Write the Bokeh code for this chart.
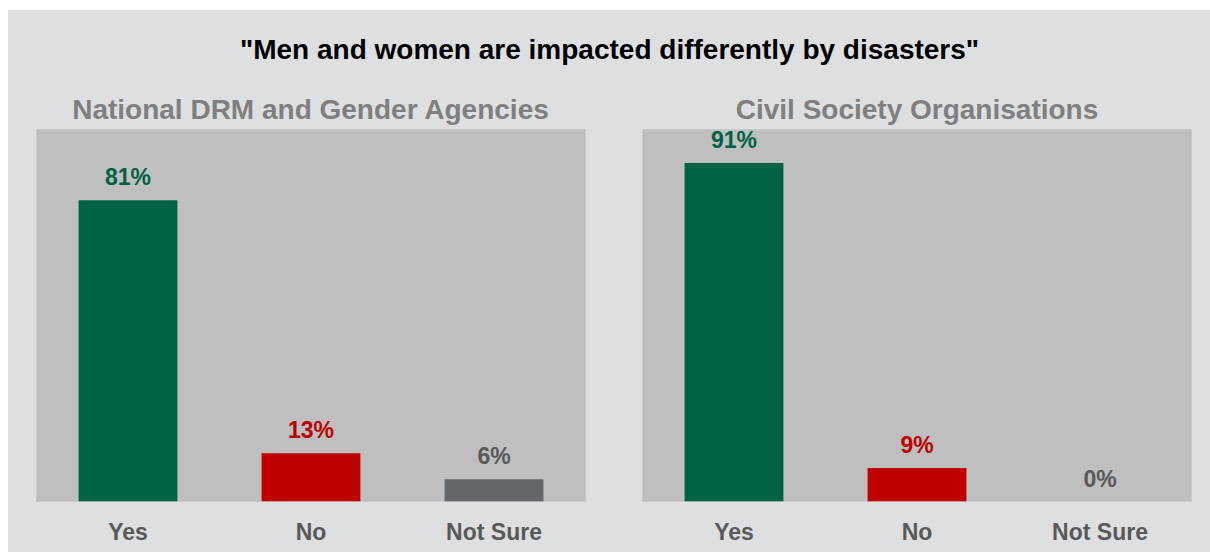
from bokeh.plotting import figure
from bokeh.layouts import column, row
from bokeh.models import ColumnDataSource, FactorRange, Range1d
from bokeh.core.properties import value
from bokeh.embed import file_html
from bokeh.resources import INLINE

# ---- data ----
main_title = '"Men and women are impacted differently by disasters"'
panel_titles = ["National DRM and Gender Agencies", "Civil Society Organisations"]
categories = ["Yes", "No", "Not Sure"]
national_pct = [81, 13, 6]
civil_pct = [91, 9, 0]

# ---- styles ----
FONT = "Liberation Sans"
PAGE_BG = "#DEDFE1"
PLOT_BG = "#BFBFBF"
bar_colors = ["#006244", "#C00000", "#63666A"]
label_colors = ["#006244", "#C00000", "#595959"]


def make_panel(title, vals, width, left, right):
    src = ColumnDataSource(dict(
        cat=categories, val=vals, color=bar_colors, lcolor=label_colors,
        txt=[f"{v}%" for v in vals]))
    p = figure(x_range=FactorRange(*categories), y_range=Range1d(0, 100),
               width=width, height=466, output_backend="svg", toolbar_location=None,
               min_border_left=left, min_border_right=right,
               min_border_top=43, min_border_bottom=51)
    p.background_fill_color = PLOT_BG
    p.border_fill_color = PAGE_BG
    p.outline_line_color = "#C8C8C8"
    p.outline_line_width = 1
    p.grid.visible = False
    p.yaxis.visible = False
    p.x_range.range_padding = 0
    ax = p.xaxis[0]
    ax.axis_line_color = None
    ax.major_tick_line_color = None
    ax.minor_tick_line_color = None
    ax.major_label_text_font = FONT
    ax.major_label_text_font_style = "bold"
    ax.major_label_text_font_size = "23px"
    ax.major_label_text_color = "#595959"
    ax.major_label_standoff = 11
    p.vbar(x="cat", top="val", width=0.54, color="color", line_color=None, source=src)
    p.text(x="cat", y="val", text="txt", text_color="lcolor", source=src,
           text_font=value(FONT), text_font_style="bold", text_font_size="23px",
           text_align="center", text_baseline="alphabetic", y_offset=-23)
    p.title.text = title
    p.title.align = "center"
    p.title.text_font = FONT
    p.title.text_font_style = "bold"
    p.title.text_font_size = "28px"
    p.title.text_color = "#7F7F7F"
    p.title.standoff = 10
    return p


p1 = make_panel(panel_titles[0], national_pct, 605, 28, 28)
p2 = make_panel(panel_titles[1], civil_pct, 597, 29, 19)

p0 = figure(width=1202, height=76, output_backend="svg", toolbar_location=None,
            x_range=Range1d(0, 1), y_range=Range1d(0, 1),
            min_border_left=0, min_border_right=0, min_border_top=54, min_border_bottom=0)
p0.axis.visible = False
p0.grid.visible = False
p0.outline_line_color = None
p0.background_fill_color = PAGE_BG
p0.border_fill_color = PAGE_BG
p0.title.text = main_title
p0.title.align = "center"
p0.title.text_font = FONT
p0.title.text_font_style = "bold"
p0.title.text_font_size = "28px"
p0.title.text_color = "#000000"
p0.title.standoff = 0

layout = column(p0, row(p1, p2, spacing=0, styles={"background-color": PAGE_BG}),
                spacing=0, margin=(10, 0, 0, 8),
                styles={"background-color": PAGE_BG})

open("out.html", "w").write(file_html(layout, INLINE))
